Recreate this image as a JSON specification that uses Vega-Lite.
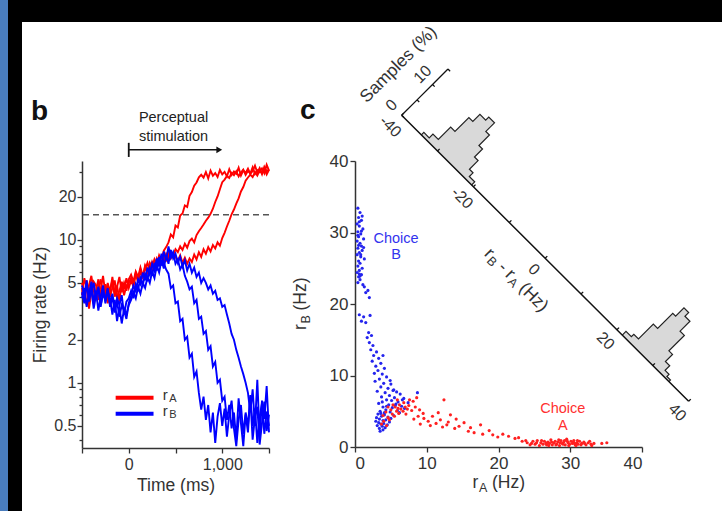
{
"$schema":"https://vega.github.io/schema/vega-lite/v6.json",
"background":"#ffffff",
"padding":0,
"spacing":0,
"config":{
 "view":{"stroke":null},
 "font":"Liberation Sans",
 "axis":{"domainColor":"#333333","tickColor":"#333333","labelColor":"#333333","titleColor":"#333333","domainWidth":1.5,"tickWidth":1.3,"tickSize":5,"grid":false,"labelFontSize":16,"titleFontSize":17.5,"titleFontWeight":"normal","labelFont":"Liberation Sans","titleFont":"Liberation Sans"},
 "text":{"color":"#333333","font":"Liberation Sans"}
},
"datasets":{
 "traces":[
  {"t":-500,"a1":4.6,"a2":5.0,"a3":4.1,"b1":4.3,"b2":4.8,"b3":3.9},
  {"t":-475,"a1":3.8,"a2":4.2,"a3":5.4,"b1":3.6,"b2":4.1,"b3":4.6},
  {"t":-450,"a1":5.2,"a2":3.5,"a3":4.6,"b1":4.9,"b2":5.2,"b3":3.4},
  {"t":-425,"a1":4.1,"a2":4.8,"a3":3.3,"b1":3.9,"b2":3.7,"b3":4.2},
  {"t":-400,"a1":4.9,"a2":5.6,"a3":4.3,"b1":4.5,"b2":4.4,"b3":5.1},
  {"t":-375,"a1":3.6,"a2":4.4,"a3":5.1,"b1":3.3,"b2":5.0,"b3":3.7},
  {"t":-350,"a1":4.4,"a2":3.9,"a3":4.8,"b1":4.1,"b2":3.9,"b3":4.4},
  {"t":-325,"a1":5.3,"a2":4.6,"a3":3.8,"b1":4.7,"b2":4.6,"b3":3.2},
  {"t":-300,"a1":4.0,"a2":5.3,"a3":4.5,"b1":3.5,"b2":3.4,"b3":4.0},
  {"t":-275,"a1":4.7,"a2":4.1,"a3":5.6,"b1":4.2,"b2":4.3,"b3":4.8},
  {"t":-250,"a1":3.9,"a2":4.9,"a3":4.2,"b1":3.8,"b2":3.8,"b3":3.6},
  {"t":-225,"a1":5.0,"a2":3.6,"a3":4.9,"b1":4.6,"b2":4.5,"b3":4.3},
  {"t":-200,"a1":4.3,"a2":4.5,"a3":4.0,"b1":3.4,"b2":3.6,"b3":3.9},
  {"t":-175,"a1":5.5,"a2":5.2,"a3":4.6,"b1":4.0,"b2":4.2,"b3":3.0},
  {"t":-150,"a1":4.2,"a2":4.0,"a3":5.2,"b1":3.1,"b2":3.3,"b3":3.8},
  {"t":-125,"a1":4.8,"a2":4.7,"a3":3.9,"b1":3.7,"b2":3.9,"b3":2.7},
  {"t":-100,"a1":3.7,"a2":5.5,"a3":4.4,"b1":2.9,"b2":3.5,"b3":3.4},
  {"t":-75,"a1":5.1,"a2":4.3,"a3":5.0,"b1":3.5,"b2":4.1,"b3":2.6},
  {"t":-50,"a1":4.5,"a2":5.0,"a3":4.1,"b1":3.2,"b2":3.0,"b3":3.3},
  {"t":-25,"a1":5.4,"a2":4.4,"a3":4.8,"b1":2.8,"b2":3.7,"b3":3.0},
  {"t":0,"a1":4.6,"a2":5.3,"a3":5.0,"b1":3.6,"b2":3.9,"b3":3.5},
  {"t":25,"a1":5.2,"a2":5.7,"a3":5.4,"b1":4.1,"b2":4.4,"b3":3.8},
  {"t":50,"a1":4.7,"a2":5.1,"a3":4.8,"b1":4.8,"b2":3.9,"b3":4.3},
  {"t":75,"a1":5.8,"a2":6.0,"a3":5.9,"b1":4.4,"b2":4.9,"b3":3.9},
  {"t":100,"a1":5.0,"a2":5.5,"a3":5.3,"b1":5.3,"b2":4.5,"b3":4.7},
  {"t":125,"a1":6.1,"a2":6.4,"a3":6.2,"b1":4.9,"b2":5.4,"b3":4.2},
  {"t":150,"a1":5.4,"a2":5.6,"a3":5.5,"b1":5.9,"b2":4.8,"b3":5.0},
  {"t":175,"a1":6.5,"a2":6.2,"a3":6.6,"b1":5.2,"b2":5.8,"b3":4.6},
  {"t":200,"a1":5.9,"a2":6.9,"a3":6.0,"b1":6.4,"b2":5.3,"b3":5.5},
  {"t":225,"a1":6.8,"a2":6.1,"a3":6.9,"b1":5.7,"b2":6.3,"b3":5.0},
  {"t":250,"a1":6.2,"a2":7.0,"a3":6.3,"b1":6.8,"b2":5.6,"b3":6.0},
  {"t":275,"a1":7.3,"a2":6.4,"a3":7.2,"b1":6.1,"b2":6.9,"b3":5.4},
  {"t":300,"a1":6.7,"a2":7.4,"a3":6.5,"b1":7.4,"b2":6.1,"b3":6.6},
  {"t":325,"a1":7.8,"a2":6.8,"a3":7.5,"b1":6.5,"b2":7.6,"b3":5.9},
  {"t":350,"a1":7.2,"a2":7.6,"a3":6.9,"b1":8.0,"b2":6.6,"b3":7.2},
  {"t":375,"a1":8.4,"a2":7.1,"a3":7.7,"b1":6.9,"b2":8.3,"b3":6.3},
  {"t":400,"a1":8.9,"a2":8.0,"a3":7.2,"b1":6.2,"b2":7.2,"b3":7.8},
  {"t":425,"a1":9.6,"a2":7.5,"a3":8.1,"b1":5.8,"b2":9.0,"b3":6.8},
  {"t":450,"a1":10.9,"a2":8.3,"a3":7.4,"b1":4.6,"b2":7.5,"b3":8.5},
  {"t":475,"a1":10.4,"a2":7.8,"a3":8.0,"b1":4.8,"b2":8.2,"b3":7.4},
  {"t":500,"a1":12.6,"a2":8.6,"a3":7.6,"b1":3.6,"b2":6.8,"b3":8.0},
  {"t":525,"a1":12.2,"a2":8.2,"a3":7.1,"b1":3.7,"b2":7.3,"b3":6.9},
  {"t":550,"a1":14.8,"a2":9.0,"a3":7.8,"b1":2.7,"b2":6.2,"b3":7.6},
  {"t":575,"a1":15.3,"a2":8.5,"a3":6.9,"b1":2.8,"b2":6.7,"b3":6.5},
  {"t":600,"a1":17.4,"a2":9.4,"a3":7.5,"b1":2.0,"b2":5.6,"b3":7.2},
  {"t":625,"a1":17.0,"a2":8.8,"a3":6.8,"b1":2.1,"b2":5.1,"b3":6.1},
  {"t":650,"a1":20.3,"a2":9.8,"a3":7.4,"b1":1.5,"b2":4.5,"b3":6.8},
  {"t":675,"a1":21.6,"a2":10.2,"a3":7.0,"b1":1.6,"b2":4.7,"b3":5.9},
  {"t":700,"a1":23.9,"a2":9.6,"a3":7.9,"b1":1.1,"b2":3.6,"b3":6.4},
  {"t":725,"a1":25.2,"a2":10.8,"a3":7.3,"b1":1.2,"b2":3.8,"b3":5.5},
  {"t":750,"a1":27.4,"a2":11.5,"a3":8.2,"b1":0.85,"b2":2.8,"b3":5.9},
  {"t":775,"a1":28.5,"a2":12.1,"a3":7.6,"b1":0.65,"b2":2.9,"b3":5.0},
  {"t":800,"a1":27.2,"a2":12.8,"a3":8.6,"b1":0.8,"b2":2.2,"b3":5.4},
  {"t":825,"a1":29.8,"a2":13.6,"a3":8.0,"b1":0.55,"b2":2.3,"b3":5.0},
  {"t":850,"a1":26.9,"a2":14.3,"a3":8.9,"b1":0.7,"b2":1.7,"b3":4.5},
  {"t":875,"a1":30.5,"a2":15.2,"a3":8.3,"b1":0.45,"b2":1.8,"b3":4.8},
  {"t":900,"a1":28.1,"a2":16.5,"a3":9.2,"b1":0.62,"b2":1.3,"b3":4.2},
  {"t":925,"a1":29.3,"a2":18.4,"a3":8.7,"b1":0.38,"b2":1.4,"b3":4.4},
  {"t":950,"a1":27.5,"a2":20.1,"a3":9.6,"b1":0.58,"b2":1.0,"b3":3.8},
  {"t":975,"a1":30.8,"a2":22.6,"a3":9.1,"b1":0.72,"b2":1.05,"b3":3.9},
  {"t":1000,"a1":28.7,"a2":25.3,"a3":10.3,"b1":0.5,"b2":0.75,"b3":3.4},
  {"t":1025,"a1":29.9,"a2":26.4,"a3":11.2,"b1":0.66,"b2":0.8,"b3":3.5},
  {"t":1050,"a1":27.8,"a2":28.0,"a3":12.4,"b1":0.42,"b2":0.55,"b3":3.0},
  {"t":1075,"a1":31.2,"a2":27.1,"a3":13.6,"b1":0.6,"b2":0.7,"b3":2.6},
  {"t":1100,"a1":28.4,"a2":29.4,"a3":15.1,"b1":0.75,"b2":0.48,"b3":2.2},
  {"t":1125,"a1":30.1,"a2":28.3,"a3":16.3,"b1":0.48,"b2":0.62,"b3":2.0},
  {"t":1150,"a1":29.0,"a2":30.2,"a3":17.9,"b1":0.36,"b2":0.4,"b3":1.7},
  {"t":1175,"a1":32.0,"a2":27.8,"a3":19.5,"b1":0.55,"b2":0.78,"b3":1.5},
  {"t":1200,"a1":28.2,"a2":29.6,"a3":21.8,"b1":0.7,"b2":0.52,"b3":1.3},
  {"t":1225,"a1":30.6,"a2":31.0,"a3":23.4,"b1":0.44,"b2":0.36,"b3":1.15},
  {"t":1250,"a1":29.4,"a2":28.5,"a3":25.9,"b1":0.62,"b2":0.6,"b3":1.0},
  {"t":1275,"a1":31.5,"a2":30.4,"a3":27.3,"b1":0.5,"b2":0.45,"b3":0.85},
  {"t":1300,"a1":28.9,"a2":29.1,"a3":28.6,"b1":0.8,"b2":0.82,"b3":0.62},
  {"t":1325,"a1":30.3,"a2":32.2,"a3":27.5,"b1":0.4,"b2":0.5,"b3":0.9},
  {"t":1350,"a1":33.0,"a2":28.9,"a3":29.8,"b1":0.58,"b2":0.66,"b3":0.5},
  {"t":1375,"a1":29.6,"a2":30.7,"a3":28.2,"b1":0.68,"b2":0.38,"b3":1.05},
  {"t":1400,"a1":31.8,"a2":29.8,"a3":30.6,"b1":0.37,"b2":0.58,"b3":0.42},
  {"t":1425,"a1":28.8,"a2":31.6,"a3":29.1,"b1":0.52,"b2":0.72,"b3":0.75},
  {"t":1450,"a1":32.5,"a2":29.2,"a3":31.4,"b1":0.74,"b2":0.44,"b3":0.56},
  {"t":1475,"a1":30.2,"a2":33.5,"a3":28.7,"b1":0.46,"b2":0.63,"b3":0.95},
  {"t":1500,"a1":31.0,"a2":30.5,"a3":30.9,"b1":0.6,"b2":0.5,"b3":0.45}
 ],
 "scatter":[
  {"a":0.4,"b":33.4,"c":"B"},{"a":0.7,"b":32.8,"c":"B"},{"a":0.5,"b":32.1,"c":"B"},{"a":0.9,"b":31.7,"c":"B"},{"a":0.3,"b":31.2,"c":"B"},{"a":0.6,"b":30.9,"c":"B"},{"a":1.1,"b":30.5,"c":"B"},{"a":0.4,"b":30.1,"c":"B"},{"a":0.8,"b":29.8,"c":"B"},{"a":0.5,"b":29.4,"c":"B"},{"a":1.2,"b":29.1,"c":"B"},{"a":0.3,"b":28.8,"c":"B"},{"a":0.7,"b":28.5,"c":"B"},{"a":0.9,"b":28.1,"c":"B"},{"a":0.4,"b":27.8,"c":"B"},{"a":1.0,"b":27.5,"c":"B"},{"a":0.6,"b":27.2,"c":"B"},{"a":0.3,"b":26.9,"c":"B"},{"a":0.8,"b":26.6,"c":"B"},{"a":1.3,"b":26.3,"c":"B"},{"a":0.5,"b":26.0,"c":"B"},{"a":0.7,"b":25.7,"c":"B"},{"a":0.4,"b":25.3,"c":"B"},{"a":1.0,"b":25.0,"c":"B"},{"a":0.6,"b":24.7,"c":"B"},{"a":0.3,"b":24.4,"c":"B"},{"a":0.9,"b":24.1,"c":"B"},{"a":0.5,"b":23.8,"c":"B"},{"a":0.7,"b":23.4,"c":"B"},{"a":0.4,"b":23.0,"c":"B"},{"a":1.1,"b":22.7,"c":"B"},{"a":0.6,"b":31.5,"c":"B"},{"a":0.9,"b":30.2,"c":"B"},{"a":0.5,"b":28.2,"c":"B"},{"a":1.2,"b":27.9,"c":"B"},{"a":0.8,"b":26.9,"c":"B"},{"a":0.4,"b":29.6,"c":"B"},{"a":0.6,"b":24.2,"c":"B"},{"a":1.0,"b":32.3,"c":"B"},{"a":0.7,"b":23.9,"c":"B"},{"a":1.3,"b":22.4,"c":"B"},{"a":1.5,"b":21.6,"c":"B"},{"a":1.8,"b":21.9,"c":"B"},{"a":2.0,"b":20.9,"c":"B"},
  {"a":0.6,"b":18.5,"c":"B"},{"a":1.2,"b":18.2,"c":"B"},{"a":0.9,"b":17.6,"c":"B"},{"a":2.1,"b":18.4,"c":"B"},{"a":1.5,"b":17.4,"c":"B"},{"a":1.9,"b":16.0,"c":"B"},{"a":2.3,"b":15.6,"c":"B"},{"a":1.7,"b":15.3,"c":"B"},{"a":2.5,"b":14.2,"c":"B"},{"a":2.2,"b":13.6,"c":"B"},{"a":3.0,"b":13.3,"c":"B"},{"a":2.6,"b":12.8,"c":"B"},{"a":3.3,"b":12.4,"c":"B"},{"a":2.4,"b":12.0,"c":"B"},{"a":3.6,"b":11.7,"c":"B"},{"a":2.9,"b":11.3,"c":"B"},{"a":4.1,"b":11.0,"c":"B"},{"a":3.2,"b":10.7,"c":"B"},{"a":2.7,"b":10.3,"c":"B"},{"a":3.8,"b":10.2,"c":"B"},{"a":4.4,"b":9.8,"c":"B"},{"a":3.4,"b":9.5,"c":"B"},{"a":2.8,"b":9.2,"c":"B"},{"a":4.0,"b":8.9,"c":"B"},{"a":5.0,"b":8.8,"c":"B"},{"a":3.6,"b":8.4,"c":"B"},{"a":4.6,"b":8.2,"c":"B"},{"a":5.4,"b":8.0,"c":"B"},{"a":3.1,"b":7.8,"c":"B"},{"a":4.2,"b":7.6,"c":"B"},{"a":5.8,"b":7.7,"c":"B"},{"a":6.3,"b":7.4,"c":"B"},{"a":4.8,"b":7.2,"c":"B"},{"a":3.7,"b":7.0,"c":"B"},{"a":5.5,"b":6.9,"c":"B"},{"a":6.8,"b":6.8,"c":"B"},{"a":4.4,"b":6.6,"c":"B"},{"a":5.1,"b":6.5,"c":"B"},{"a":6.0,"b":6.3,"c":"B"},{"a":7.4,"b":6.2,"c":"B"},{"a":3.3,"b":6.1,"c":"B"},{"a":4.7,"b":5.9,"c":"B"},{"a":5.6,"b":5.8,"c":"B"},{"a":6.5,"b":5.7,"c":"B"},{"a":3.9,"b":5.6,"c":"B"},{"a":5.2,"b":5.5,"c":"B"},{"a":6.9,"b":5.4,"c":"B"},{"a":4.3,"b":5.2,"c":"B"},{"a":5.9,"b":5.1,"c":"B"},{"a":3.5,"b":5.0,"c":"B"},{"a":4.9,"b":4.9,"c":"B"},{"a":6.2,"b":4.8,"c":"B"},{"a":3.2,"b":4.6,"c":"B"},{"a":4.1,"b":4.5,"c":"B"},{"a":5.4,"b":4.4,"c":"B"},{"a":3.7,"b":4.3,"c":"B"},{"a":4.6,"b":4.2,"c":"B"},{"a":3.0,"b":4.1,"c":"B"},{"a":5.0,"b":4.0,"c":"B"},{"a":3.4,"b":3.9,"c":"B"},{"a":4.3,"b":3.8,"c":"B"},{"a":3.9,"b":3.7,"c":"B"},{"a":2.9,"b":3.6,"c":"B"},{"a":4.8,"b":3.5,"c":"B"},{"a":3.3,"b":3.4,"c":"B"},{"a":4.0,"b":3.3,"c":"B"},{"a":3.6,"b":3.2,"c":"B"},{"a":4.5,"b":3.1,"c":"B"},{"a":3.1,"b":3.0,"c":"B"},{"a":3.8,"b":2.9,"c":"B"},{"a":4.2,"b":2.7,"c":"B"},{"a":3.4,"b":2.6,"c":"B"},{"a":3.9,"b":2.4,"c":"B"},{"a":3.5,"b":2.2,"c":"B"},{"a":4.1,"b":4.8,"c":"B"},{"a":3.6,"b":4.7,"c":"B"},{"a":4.4,"b":5.7,"c":"B"},{"a":3.8,"b":6.3,"c":"B"},{"a":5.7,"b":6.0,"c":"B"},{"a":6.6,"b":6.6,"c":"B"},{"a":8.7,"b":7.6,"c":"B"},{"a":5.3,"b":7.9,"c":"B"},{"a":4.9,"b":9.3,"c":"B"},{"a":3.9,"b":12.8,"c":"B"},{"a":2.0,"b":14.6,"c":"B"},
  {"a":4.0,"b":3.6,"c":"A"},{"a":4.6,"b":4.1,"c":"A"},{"a":5.2,"b":4.6,"c":"A"},{"a":5.8,"b":5.0,"c":"A"},{"a":6.4,"b":5.3,"c":"A"},{"a":7.0,"b":5.6,"c":"A"},{"a":4.3,"b":4.9,"c":"A"},{"a":5.0,"b":5.2,"c":"A"},{"a":5.6,"b":5.6,"c":"A"},{"a":6.2,"b":5.9,"c":"A"},{"a":6.8,"b":6.2,"c":"A"},{"a":7.5,"b":5.8,"c":"A"},{"a":8.1,"b":6.4,"c":"A"},{"a":8.6,"b":6.9,"c":"A"},{"a":4.8,"b":3.8,"c":"A"},{"a":5.5,"b":4.3,"c":"A"},{"a":6.1,"b":4.7,"c":"A"},{"a":6.7,"b":5.0,"c":"A"},{"a":7.3,"b":5.3,"c":"A"},{"a":7.9,"b":5.1,"c":"A"},{"a":3.7,"b":3.2,"c":"A"},{"a":4.4,"b":3.0,"c":"A"},{"a":5.9,"b":6.6,"c":"A"},{"a":7.6,"b":6.6,"c":"A"},{"a":8.4,"b":5.6,"c":"A"},{"a":9.0,"b":5.2,"c":"A"},{"a":8.8,"b":4.3,"c":"A"},{"a":9.5,"b":4.7,"c":"A"},{"a":3.9,"b":4.4,"c":"A"},{"a":6.0,"b":5.4,"c":"A"},{"a":7.1,"b":4.6,"c":"A"},{"a":8.2,"b":3.9,"c":"A"},{"a":5.3,"b":5.9,"c":"A"},{"a":4.6,"b":5.6,"c":"A"},
  {"a":9.6,"b":4.0,"c":"A"},{"a":10.2,"b":3.6,"c":"A"},{"a":10.8,"b":4.3,"c":"A"},{"a":11.3,"b":3.3,"c":"A"},{"a":11.9,"b":3.8,"c":"A"},{"a":12.4,"b":6.6,"c":"A"},{"a":12.8,"b":3.1,"c":"A"},{"a":13.3,"b":4.5,"c":"A"},{"a":13.0,"b":3.5,"c":"A"},{"a":13.9,"b":2.6,"c":"A"},{"a":14.5,"b":2.9,"c":"A"},{"a":15.2,"b":3.4,"c":"A"},{"a":15.8,"b":2.2,"c":"A"},{"a":16.6,"b":2.0,"c":"A"},{"a":17.5,"b":3.1,"c":"A"},{"a":17.8,"b":1.8,"c":"A"},{"a":18.7,"b":2.3,"c":"A"},{"a":19.2,"b":1.7,"c":"A"},{"a":19.9,"b":1.4,"c":"A"},{"a":20.6,"b":1.8,"c":"A"},{"a":21.4,"b":1.5,"c":"A"},{"a":22.3,"b":1.2,"c":"A"},{"a":22.8,"b":1.3,"c":"A"},{"a":23.3,"b":0.8,"c":"A"},{"a":9.1,"b":3.2,"c":"A"},{"a":10.5,"b":3.0,"c":"A"},{"a":11.6,"b":4.8,"c":"A"},{"a":12.2,"b":2.8,"c":"A"},{"a":14.1,"b":3.9,"c":"A"},{"a":16.1,"b":2.7,"c":"A"},
  {"a":24.0,"b":0.6,"c":"A"},{"a":24.4,"b":0.3,"c":"A"},{"a":24.8,"b":0.8,"c":"A"},{"a":25.1,"b":0.4,"c":"A"},{"a":25.4,"b":0.9,"c":"A"},{"a":25.7,"b":0.2,"c":"A"},{"a":25.9,"b":0.6,"c":"A"},{"a":26.2,"b":0.4,"c":"A"},{"a":26.4,"b":0.8,"c":"A"},{"a":26.7,"b":0.3,"c":"A"},{"a":26.9,"b":0.7,"c":"A"},{"a":27.1,"b":0.5,"c":"A"},{"a":27.3,"b":1.0,"c":"A"},{"a":27.5,"b":0.3,"c":"A"},{"a":27.7,"b":0.6,"c":"A"},{"a":27.9,"b":0.8,"c":"A"},{"a":28.1,"b":0.4,"c":"A"},{"a":28.3,"b":0.7,"c":"A"},{"a":28.5,"b":0.2,"c":"A"},{"a":28.7,"b":0.9,"c":"A"},{"a":28.9,"b":0.5,"c":"A"},{"a":29.1,"b":0.7,"c":"A"},{"a":29.3,"b":0.3,"c":"A"},{"a":29.5,"b":1.1,"c":"A"},{"a":29.7,"b":0.6,"c":"A"},{"a":29.9,"b":0.4,"c":"A"},{"a":30.1,"b":0.8,"c":"A"},{"a":30.3,"b":0.5,"c":"A"},{"a":30.5,"b":0.9,"c":"A"},{"a":30.7,"b":0.3,"c":"A"},{"a":30.9,"b":0.6,"c":"A"},{"a":31.1,"b":0.4,"c":"A"},{"a":31.3,"b":0.8,"c":"A"},{"a":31.6,"b":0.5,"c":"A"},{"a":31.9,"b":0.7,"c":"A"},{"a":32.2,"b":0.3,"c":"A"},{"a":32.5,"b":0.6,"c":"A"},{"a":32.9,"b":0.4,"c":"A"},{"a":33.3,"b":0.5,"c":"A"},{"a":26.0,"b":0.9,"c":"A"},{"a":26.6,"b":0.5,"c":"A"},{"a":27.4,"b":0.7,"c":"A"},{"a":28.0,"b":0.3,"c":"A"},{"a":28.6,"b":0.6,"c":"A"},{"a":29.2,"b":0.9,"c":"A"},{"a":29.8,"b":0.2,"c":"A"},{"a":30.4,"b":0.7,"c":"A"},{"a":31.0,"b":0.9,"c":"A"},{"a":31.5,"b":0.3,"c":"A"},{"a":27.0,"b":0.2,"c":"A"},{"a":28.4,"b":1.0,"c":"A"},{"a":29.6,"b":0.8,"c":"A"},{"a":30.8,"b":0.2,"c":"A"},{"a":25.3,"b":0.6,"c":"A"},{"a":24.6,"b":0.5,"c":"A"},{"a":32.0,"b":0.5,"c":"A"},{"a":32.7,"b":0.8,"c":"A"},{"a":33.0,"b":0.2,"c":"A"},{"a":34.4,"b":0.5,"c":"A"},{"a":35.1,"b":0.6,"c":"A"},{"a":23.8,"b":0.9,"c":"A"},{"a":26.8,"b":0.6,"c":"A"},{"a":29.0,"b":0.4,"c":"A"},{"a":30.6,"b":0.5,"c":"A"}
 ],
 "hist":[
  {"p":"U","i":0,"t0":-34.5,"t1":-34.5,"h":0},
  {"p":"U","i":1,"t0":-34.5,"t1":-33,"h":0.8},
  {"p":"U","i":2,"t0":-33,"t1":-31.5,"h":2.0},
  {"p":"U","i":3,"t0":-31.5,"t1":-30.3,"h":6.0},
  {"p":"U","i":4,"t0":-30.3,"t1":-29.2,"h":10.5},
  {"p":"U","i":5,"t0":-29.2,"t1":-27.6,"h":12.8},
  {"p":"U","i":6,"t0":-27.6,"t1":-26,"h":13.8},
  {"p":"U","i":7,"t0":-26,"t1":-25,"h":11.0},
  {"p":"U","i":8,"t0":-25,"t1":-24,"h":7.6},
  {"p":"U","i":9,"t0":-24,"t1":-23,"h":5.0},
  {"p":"U","i":10,"t0":-23,"t1":-22,"h":2.2},
  {"p":"U","i":11,"t0":-22,"t1":-20.5,"h":1.0},
  {"p":"U","i":12,"t0":-20.5,"t1":-20.5,"h":0},
  {"p":"L","i":0,"t0":21.5,"t1":21.5,"h":0},
  {"p":"L","i":1,"t0":21.5,"t1":23,"h":1.2},
  {"p":"L","i":2,"t0":23,"t1":24.3,"h":2.0},
  {"p":"L","i":3,"t0":24.3,"t1":25.5,"h":6.8},
  {"p":"L","i":4,"t0":25.5,"t1":26.3,"h":11.7},
  {"p":"L","i":5,"t0":26.3,"t1":27.6,"h":14.4},
  {"p":"L","i":6,"t0":27.6,"t1":29,"h":13.2},
  {"p":"L","i":7,"t0":29,"t1":30.2,"h":10.0},
  {"p":"L","i":8,"t0":30.2,"t1":31.2,"h":5.0},
  {"p":"L","i":9,"t0":31.2,"t1":32.4,"h":2.7},
  {"p":"L","i":10,"t0":32.4,"t1":33.5,"h":1.2},
  {"p":"L","i":11,"t0":33.5,"t1":34.5,"h":0.5},
  {"p":"L","i":12,"t0":34.5,"t1":34.5,"h":0}
 ],
 "dg":[{"t":-40,"lab":"-40"},{"t":-30,"lab":""},{"t":-20,"lab":"-20"},{"t":-10,"lab":""},{"t":0,"lab":"0"},{"t":10,"lab":""},{"t":20,"lab":"20"},{"t":30,"lab":""},{"t":40,"lab":"40"}],
 "sp":[{"h":0,"lab":"0"},{"h":5,"lab":""},{"h":10,"lab":"10"},{"h":15,"lab":""}],
 "legB":[{"t":363,"v":0.785,"lab":"A"},{"t":363,"v":0.607,"lab":"B"}],
 "dtit":[{"t":-1}],
 "xtit":[{"x":20,"y":-5.7}],
 "ytit":[{"x":-6.8,"y":20}]
},
"hconcat":[
 {"width":8,"height":511,"data":{"values":[]},"mark":"point","view":{"fill":"#4a7dbd","stroke":null}},
 {"width":14,"height":511,"data":{"values":[]},"mark":"point","view":{"fill":"#000000","stroke":null}},
 {"spacing":0,"vconcat":[
  {"width":700,"height":22,"data":{"values":[]},"mark":"point","view":{"fill":"#000000","stroke":null}},
  {"spacing":0,"hconcat":[
   {"width":9,"height":1,"data":{"values":[]},"mark":"point"},
   {"width":187,"height":287,"layer":[
    {"data":{"name":"traces"},"transform":[{"fold":["a1","a2","a3","b1","b2","b3"],"as":["series","rate"]}],
     "mark":{"type":"line","strokeWidth":1.9},
     "encoding":{
      "x":{"field":"t","type":"quantitative","scale":{"domain":[-500,1500],"nice":false},"axis":{"values":[-500,0,500,1000,1500],"labelExpr":"datum.value == 0 ? '0' : (datum.value == 1000 ? '1,000' : '')","title":"Time (ms)","labelPadding":3,"titlePadding":4}},
      "y":{"field":"rate","type":"quantitative","scale":{"type":"log","domain":[0.35,35.6],"nice":false},"axis":{"values":[0.4,0.5,0.6,0.7,0.8,0.9,1,2,3,4,5,6,7,8,9,10,20,30],"labelExpr":"indexof([0.5,1,2,5,10,20], datum.value) >= 0 ? '' + datum.value : ''","tickSize":{"condition":{"test":"indexof([0.5,1,2,5,10,20], datum.value) >= 0","value":5},"value":3},"title":"Firing rate (Hz)","labelPadding":1,"titlePadding":4}},
      "color":{"field":"series","type":"nominal","scale":{"domain":["a1","a2","a3","b1","b2","b3"],"range":["#ff0000","#ff0000","#ff0000","#0000ff","#0000ff","#0000ff"]},"legend":null}
     }},
    {"data":{"values":[{"rate":15}]},"mark":{"type":"rule","color":"#555555","strokeWidth":1.5,"strokeDash":[6,4]},"encoding":{"y":{"field":"rate","type":"quantitative"}}},
    {"data":{"values":[{"t":479,"rate":70.8,"txt":"Perceptual"},{"t":479,"rate":52.5,"txt":"stimulation"}]},"mark":{"type":"text","fontSize":14.5,"baseline":"middle","align":"center","color":"#222222"},"encoding":{"x":{"field":"t","type":"quantitative"},"y":{"field":"rate","type":"quantitative"},"text":{"field":"txt"}}},
    {"data":{"values":[{"t":0,"t2":965,"rate":42.6}]},"mark":{"type":"rule","color":"#111111","strokeWidth":1.5},"encoding":{"x":{"field":"t","type":"quantitative"},"x2":{"field":"t2"},"y":{"field":"rate","type":"quantitative"}}},
    {"data":{"values":[{"t":0,"rate":38,"v2":47.7}]},"mark":{"type":"rule","color":"#111111","strokeWidth":1.8},"encoding":{"x":{"field":"t","type":"quantitative"},"y":{"field":"rate","type":"quantitative"},"y2":{"field":"v2"}}},
    {"data":{"values":[{"t":968,"rate":42.6}]},"mark":{"type":"point","shape":"triangle-right","filled":true,"size":45,"color":"#111111","opacity":1},"encoding":{"x":{"field":"t","type":"quantitative"},"y":{"field":"rate","type":"quantitative"}}},
    {"data":{"values":[{"series":"a1","t":-140,"t2":265,"rate":0.785},{"series":"b1","t":-140,"t2":265,"rate":0.607}]},"mark":{"type":"rule","strokeWidth":4},"encoding":{"x":{"field":"t","type":"quantitative"},"x2":{"field":"t2"},"y":{"field":"rate","type":"quantitative"},"color":{"field":"series","type":"nominal","scale":{"domain":["a1","a2","a3","b1","b2","b3"],"range":["#ff0000","#ff0000","#ff0000","#0000ff","#0000ff","#0000ff"]},"legend":null}}},
    {"data":{"name":"legB"},"transform":[{"calculate":"datum.v","as":"rate"}],"mark":{"type":"text","text":"r","fontSize":15,"align":"left","baseline":"middle","dy":-3},"encoding":{"x":{"field":"t","type":"quantitative"},"y":{"field":"rate","type":"quantitative"}}},
    {"data":{"name":"legB"},"transform":[{"calculate":"datum.v","as":"rate"}],"mark":{"type":"text","fontSize":11,"align":"left","baseline":"middle","dx":6.5,"dy":1},"encoding":{"x":{"field":"t","type":"quantitative"},"y":{"field":"rate","type":"quantitative"},"text":{"field":"lab"}}},
    {"data":{"values":[{"t":-1045,"rate":69}]},"mark":{"type":"text","text":"b","fontSize":28,"fontWeight":"bold","align":"left","baseline":"alphabetic","color":"#111111"},"encoding":{"x":{"field":"t","type":"quantitative"},"y":{"field":"rate","type":"quantitative"}}}
   ]},
   {"width":19,"height":1,"data":{"values":[]},"mark":"point"},
   {"width":287,"height":286,"layer":[
    {"data":{"name":"scatter"},"transform":[{"filter":"datum.c == 'B'"}],"mark":{"type":"circle","size":10,"opacity":1,"color":"#2424ee"},
     "encoding":{"x":{"field":"a","type":"quantitative","scale":{"domain":[0,40],"nice":false},"axis":{"values":[0,10,20,30,40],"title":null,"labelFontSize":17,"labelPadding":3}},"y":{"field":"b","type":"quantitative","scale":{"domain":[0,40],"nice":false},"axis":{"values":[0,10,20,30,40],"title":null,"labelFontSize":17,"labelPadding":2}}}},
    {"data":{"name":"hist"},"transform":[{"fold":["t0","t1"],"as":["k","tt"]},{"calculate":"26.5+0.5*datum.tt+0.4306*datum.h","as":"a"},{"calculate":"26.4-0.5*datum.tt+0.4306*datum.h","as":"b"},{"calculate":"datum.tt+0.001*datum.i","as":"key"}],
     "mark":{"type":"line","fill":"#d9d9d9","stroke":"#222222","strokeWidth":1.2},
     "encoding":{"x":{"field":"a","type":"quantitative"},"y":{"field":"b","type":"quantitative"},"detail":{"field":"p","type":"nominal"},"order":{"field":"key","type":"quantitative"}}},
    {"data":{"name":"dg"},"transform":[{"calculate":"26.5+0.5*datum.t","as":"a"},{"calculate":"26.4-0.5*datum.t","as":"b"}],
     "mark":{"type":"line","color":"#111111","strokeWidth":1.5},
     "encoding":{"x":{"field":"a","type":"quantitative"},"y":{"field":"b","type":"quantitative"},"order":{"field":"t","type":"quantitative"}}},
    {"data":{"name":"sp"},"transform":[{"calculate":"6.5+0.4306*datum.h","as":"a"},{"calculate":"46.4+0.4306*datum.h","as":"b"}],
     "mark":{"type":"line","color":"#111111","strokeWidth":1.3},
     "encoding":{"x":{"field":"a","type":"quantitative"},"y":{"field":"b","type":"quantitative"},"order":{"field":"h","type":"quantitative"}}},
    {"data":{"name":"dg"},"transform":[{"calculate":"26.5+0.5*datum.t","as":"a"},{"calculate":"26.4-0.5*datum.t","as":"b"},{"calculate":"datum.a+0.3","as":"a2"},{"calculate":"datum.b+0.3","as":"b2"}],
     "mark":{"type":"rule","color":"#111111","strokeWidth":1.3},
     "encoding":{"x":{"field":"a","type":"quantitative"},"y":{"field":"b","type":"quantitative"},"x2":{"field":"a2"},"y2":{"field":"b2"}}},
    {"data":{"name":"sp"},"transform":[{"calculate":"6.5+0.4306*datum.h","as":"a"},{"calculate":"46.4+0.4306*datum.h","as":"b"},{"calculate":"datum.a+0.3","as":"a2"},{"calculate":"datum.b-0.3","as":"b2"}],
     "mark":{"type":"rule","color":"#111111","strokeWidth":1.3},
     "encoding":{"x":{"field":"a","type":"quantitative"},"y":{"field":"b","type":"quantitative"},"x2":{"field":"a2"},"y2":{"field":"b2"}}},
    {"data":{"name":"dg"},"transform":[{"filter":"datum.lab != ''"},{"calculate":"26.5+0.5*datum.t","as":"a"},{"calculate":"26.4-0.5*datum.t","as":"b"}],
     "mark":{"type":"text","angle":45,"align":"center","baseline":"middle","dy":16,"fontSize":16},
     "encoding":{"x":{"field":"a","type":"quantitative"},"y":{"field":"b","type":"quantitative"},"text":{"field":"lab"}}},
    {"data":{"name":"sp"},"transform":[{"filter":"datum.lab != ''"},{"calculate":"6.5+0.4306*datum.h","as":"a"},{"calculate":"46.4+0.4306*datum.h","as":"b"}],
     "mark":{"type":"text","angle":-45,"align":"center","baseline":"middle","dy":-14,"fontSize":16},
     "encoding":{"x":{"field":"a","type":"quantitative"},"y":{"field":"b","type":"quantitative"},"text":{"field":"lab"}}},
    {"data":{"values":[{"h":7.7}]},"transform":[{"calculate":"6.5+0.4306*datum.h","as":"a"},{"calculate":"46.4+0.4306*datum.h","as":"b"}],
     "mark":{"type":"text","text":"Samples (%)","angle":-45,"align":"center","baseline":"middle","dy":-38,"fontSize":17.5},
     "encoding":{"x":{"field":"a","type":"quantitative"},"y":{"field":"b","type":"quantitative"}}},
    {"data":{"name":"dtit"},"transform":[{"calculate":"26.5+0.5*datum.t","as":"a"},{"calculate":"26.4-0.5*datum.t","as":"b"}],"mark":{"type":"text","text":"r","angle":45,"align":"left","baseline":"middle","dx":-41,"dy":36,"fontSize":17.5},"encoding":{"x":{"field":"a","type":"quantitative"},"y":{"field":"b","type":"quantitative"}}},
    {"data":{"name":"dtit"},"transform":[{"calculate":"26.5+0.5*datum.t","as":"a"},{"calculate":"26.4-0.5*datum.t","as":"b"}],"mark":{"type":"text","text":"B","angle":45,"align":"left","baseline":"middle","dx":-34.5,"dy":40,"fontSize":12.5},"encoding":{"x":{"field":"a","type":"quantitative"},"y":{"field":"b","type":"quantitative"}}},
    {"data":{"name":"dtit"},"transform":[{"calculate":"26.5+0.5*datum.t","as":"a"},{"calculate":"26.4-0.5*datum.t","as":"b"}],"mark":{"type":"text","text":"-","angle":45,"align":"left","baseline":"middle","dx":-21.5,"dy":36,"fontSize":17.5},"encoding":{"x":{"field":"a","type":"quantitative"},"y":{"field":"b","type":"quantitative"}}},
    {"data":{"name":"dtit"},"transform":[{"calculate":"26.5+0.5*datum.t","as":"a"},{"calculate":"26.4-0.5*datum.t","as":"b"}],"mark":{"type":"text","text":"r","angle":45,"align":"left","baseline":"middle","dx":-11.3,"dy":36,"fontSize":17.5},"encoding":{"x":{"field":"a","type":"quantitative"},"y":{"field":"b","type":"quantitative"}}},
    {"data":{"name":"dtit"},"transform":[{"calculate":"26.5+0.5*datum.t","as":"a"},{"calculate":"26.4-0.5*datum.t","as":"b"}],"mark":{"type":"text","text":"A","angle":45,"align":"left","baseline":"middle","dx":-4.8,"dy":40,"fontSize":12.5},"encoding":{"x":{"field":"a","type":"quantitative"},"y":{"field":"b","type":"quantitative"}}},
    {"data":{"name":"dtit"},"transform":[{"calculate":"26.5+0.5*datum.t","as":"a"},{"calculate":"26.4-0.5*datum.t","as":"b"}],"mark":{"type":"text","text":"(Hz)","angle":45,"align":"left","baseline":"middle","dx":8,"dy":36,"fontSize":17.5},"encoding":{"x":{"field":"a","type":"quantitative"},"y":{"field":"b","type":"quantitative"}}},
    {"data":{"name":"scatter"},"transform":[{"filter":"datum.c == 'A'"}],"mark":{"type":"circle","size":10,"opacity":1,"color":"#ff2020"},
     "encoding":{"x":{"field":"a","type":"quantitative"},"y":{"field":"b","type":"quantitative"}}},
    {"data":{"values":[{"a":5.71,"b":29.1,"txt":"Choice"},{"a":5.71,"b":26.85,"txt":"B"}]},"mark":{"type":"text","fontSize":14.5,"align":"center","baseline":"middle","color":"#3333ee"},"encoding":{"x":{"field":"a","type":"quantitative"},"y":{"field":"b","type":"quantitative"},"text":{"field":"txt"}}},
    {"data":{"values":[{"a":28.95,"b":5.38,"txt":"Choice"},{"a":28.95,"b":2.94,"txt":"A"}]},"mark":{"type":"text","fontSize":14.5,"align":"center","baseline":"middle","color":"#ff3030"},"encoding":{"x":{"field":"a","type":"quantitative"},"y":{"field":"b","type":"quantitative"},"text":{"field":"txt"}}},
    {"data":{"name":"xtit"},"transform":[{"calculate":"datum.x","as":"a"},{"calculate":"datum.y","as":"b"}],"mark":{"type":"text","text":"r","align":"left","baseline":"alphabetic","dx":-26,"fontSize":17.5},"encoding":{"x":{"field":"a","type":"quantitative"},"y":{"field":"b","type":"quantitative"}}},
    {"data":{"name":"xtit"},"transform":[{"calculate":"datum.x","as":"a"},{"calculate":"datum.y","as":"b"}],"mark":{"type":"text","text":"A","align":"left","baseline":"alphabetic","dx":-19.5,"dy":4,"fontSize":12.5},"encoding":{"x":{"field":"a","type":"quantitative"},"y":{"field":"b","type":"quantitative"}}},
    {"data":{"name":"xtit"},"transform":[{"calculate":"datum.x","as":"a"},{"calculate":"datum.y","as":"b"}],"mark":{"type":"text","text":"(Hz)","align":"left","baseline":"alphabetic","dx":-6.5,"fontSize":17.5},"encoding":{"x":{"field":"a","type":"quantitative"},"y":{"field":"b","type":"quantitative"}}},
    {"data":{"name":"ytit"},"transform":[{"calculate":"datum.x","as":"a"},{"calculate":"datum.y","as":"b"}],"mark":{"type":"text","text":"r","angle":-90,"align":"left","baseline":"alphabetic","dx":-26,"fontSize":17.5},"encoding":{"x":{"field":"a","type":"quantitative"},"y":{"field":"b","type":"quantitative"}}},
    {"data":{"name":"ytit"},"transform":[{"calculate":"datum.x","as":"a"},{"calculate":"datum.y","as":"b"}],"mark":{"type":"text","text":"B","angle":-90,"align":"left","baseline":"alphabetic","dx":-19.5,"dy":4,"fontSize":12.5},"encoding":{"x":{"field":"a","type":"quantitative"},"y":{"field":"b","type":"quantitative"}}},
    {"data":{"name":"ytit"},"transform":[{"calculate":"datum.x","as":"a"},{"calculate":"datum.y","as":"b"}],"mark":{"type":"text","text":"(Hz)","angle":-90,"align":"left","baseline":"alphabetic","dx":-6.5,"fontSize":17.5},"encoding":{"x":{"field":"a","type":"quantitative"},"y":{"field":"b","type":"quantitative"}}},
    {"data":{"values":[{"a":-7.67,"b":45.87}]},"mark":{"type":"text","text":"c","fontSize":28,"fontWeight":"bold","align":"left","baseline":"alphabetic","color":"#111111"},"encoding":{"x":{"field":"a","type":"quantitative"},"y":{"field":"b","type":"quantitative"}}}
   ]}
  ]}
 ]}
]
}
